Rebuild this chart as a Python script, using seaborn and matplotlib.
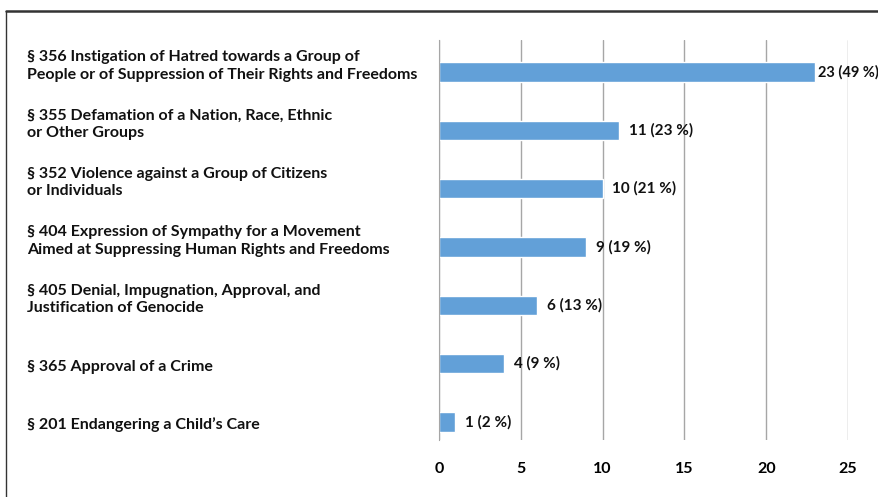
import matplotlib
matplotlib.use("Agg")
import matplotlib.pyplot as plt
import matplotlib.transforms as mtransforms
from matplotlib.lines import Line2D
import seaborn as sns

# data
sections = [
    "§ 356 Instigation of Hatred towards a Group of\nPeople or of Suppression of Their Rights and Freedoms",
    "§ 355 Defamation of a Nation, Race, Ethnic\nor Other Groups",
    "§ 352 Violence against a Group of Citizens\nor Individuals",
    "§ 404 Expression of Sympathy for a Movement\nAimed at Suppressing Human Rights and Freedoms",
    "§ 405 Denial, Impugnation, Approval, and\nJustification of Genocide",
    "§ 365 Approval of a Crime",
    "§ 201 Endangering a Child\u2019s Care",
]
counts = [23, 11, 10, 9, 6, 4, 1]
shares = [49, 23, 21, 19, 13, 9, 2]
xticks = [0, 5, 10, 15, 20, 25]

sns.set_style("white")
plt.rcParams["font.family"] = ["Lato", "DejaVu Sans"]
plt.rcParams["font.weight"] = "bold"

fig = plt.figure(figsize=(8.79, 4.97), dpi=100)
ax = fig.add_axes([439 / 879, 1 - 440 / 497, (848 - 439) / 879, 400 / 497])

sns.barplot(x=counts, y=sections, orient="h", color="#62a0d8",
            width=0.33, saturation=1, ax=ax)

ax.set_xlim(0, 25)
ax.set_ylim(6.31, -0.55)
ax.set_xticks(xticks)
ax.grid(axis="x", color="#a6a6a6", linewidth=1)
ax.set_axisbelow(True)
for side in ["top", "right", "bottom"]:
    ax.spines[side].set_visible(False)
ax.spines["left"].set_color("#a6a6a6")

ax.tick_params(axis="x", length=9.5, color="#a6a6a6", width=1, pad=6,
               labelsize=11.5, labelcolor="black")
for t in ax.get_xticklabels():
    t.set_fontweight("bold")

# category names, left aligned near the frame
ax.tick_params(axis="y", length=0)
ax.set_yticklabels([])
name_tf = mtransforms.blended_transform_factory(fig.transFigure, ax.transData)
for i, name in enumerate(sections):
    shift = 6 if "\n" in name else -3
    tf = name_tf + mtransforms.ScaledTranslation(0, shift / 100, fig.dpi_scale_trans)
    ax.text(27 / 879, i, name, transform=tf, ha="left", va="center",
            fontsize=11.5, fontweight="bold", color="#111111", linespacing=1.3)

value_labels = [f"{c} ({s} %)" for c, s in zip(counts, shares)]
first = [value_labels[0]] + [""] * (len(value_labels) - 1)
rest = [""] + value_labels[1:]
ax.bar_label(ax.containers[0], labels=first, padding=2,
             fontsize=10.5, fontweight="bold", color="#111111")
ax.bar_label(ax.containers[0], labels=rest, padding=7,
             fontsize=11, fontweight="bold", color="#111111")

ax.set_xlabel("")
ax.set_ylabel("")

# frame around the figure
fig.add_artist(Line2D([6 / 879, 1], [1 - 11 / 497, 1 - 11 / 497],
                      transform=fig.transFigure, color="#333333", linewidth=1.8))
fig.add_artist(Line2D([6 / 879, 6 / 879], [0, 1 - 11 / 497],
                      transform=fig.transFigure, color="#333333", linewidth=1))

fig.savefig("out.png", dpi=100)
